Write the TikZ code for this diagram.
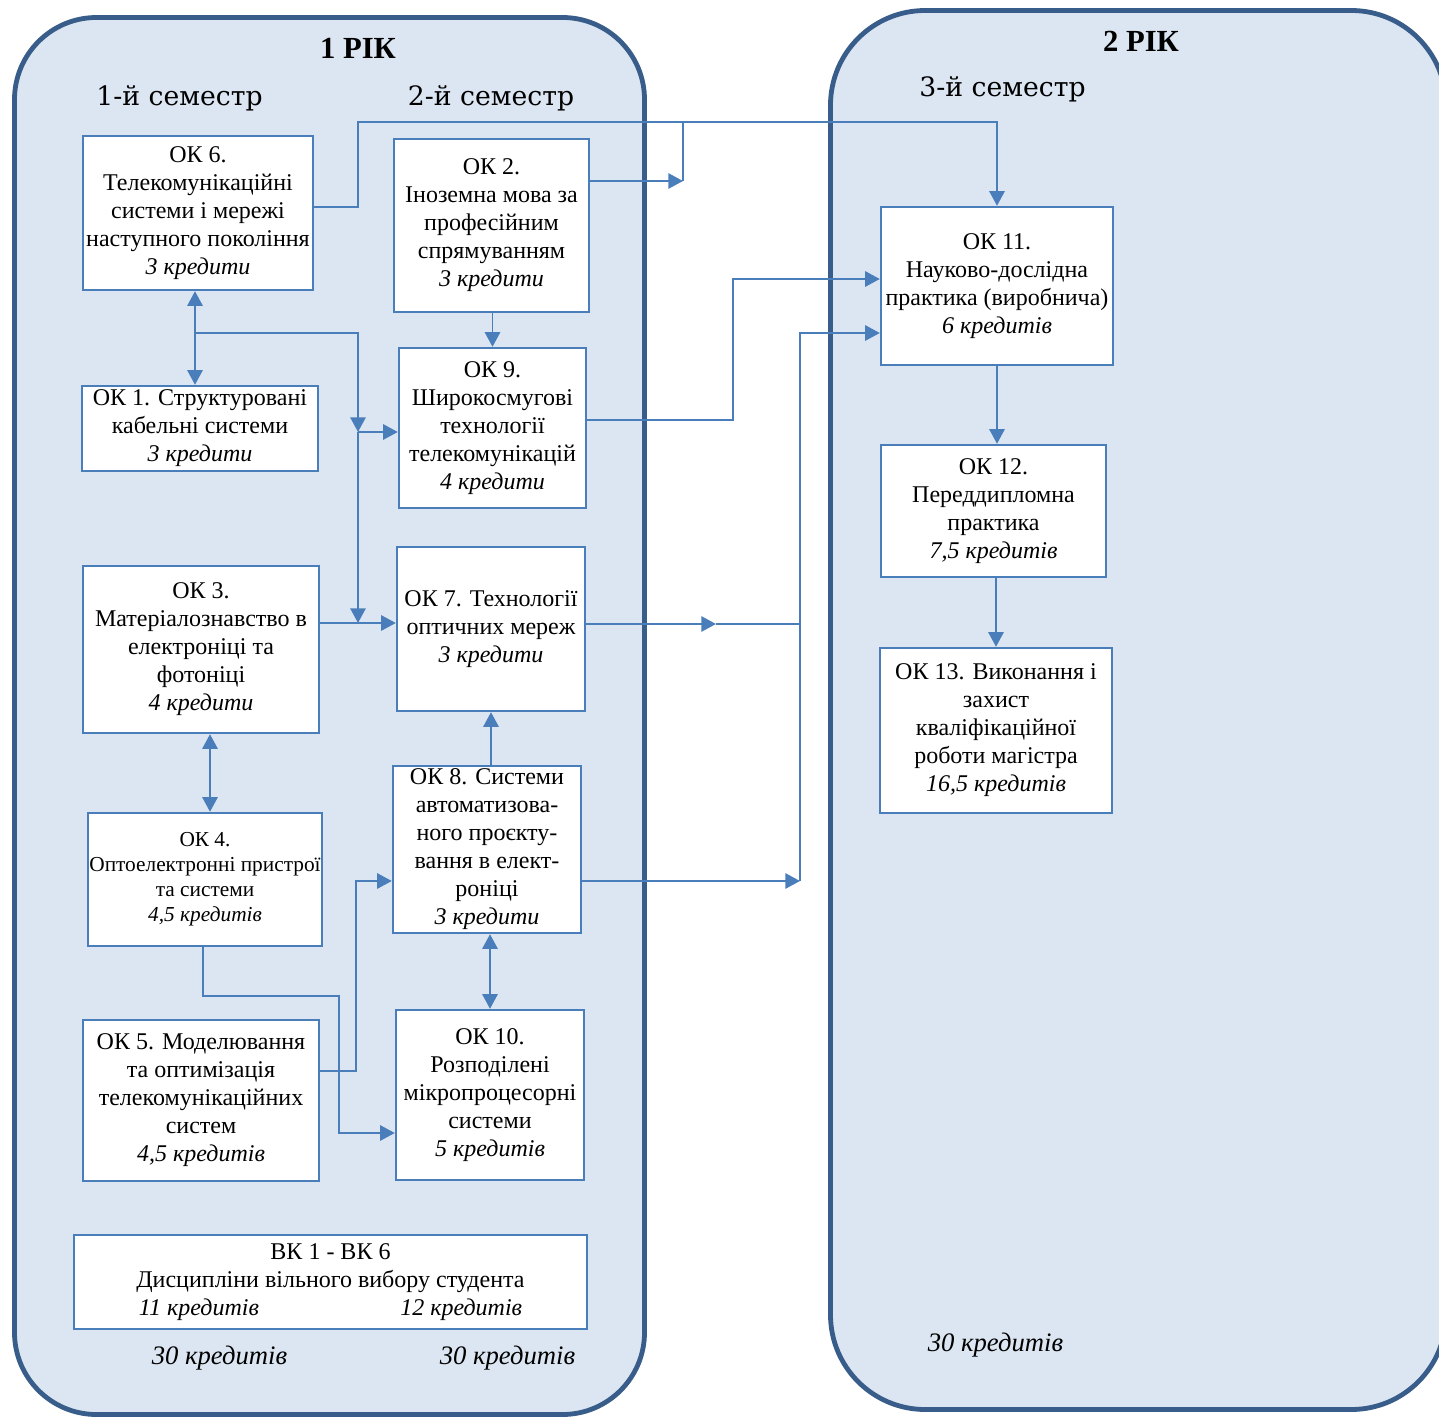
\documentclass[tikz,border=0pt]{standalone}
\usepackage{fontspec}
\setmainfont{Liberation Serif}
\newfontfamily\semfont{DejaVu Serif}
\usetikzlibrary{arrows.meta}
\definecolor{yearfill}{RGB}{220,230,242}
\definecolor{yearline}{RGB}{56,93,138}
\definecolor{linkblue}{RGB}{74,126,187}

\begin{document}
\begin{tikzpicture}[x=0.75pt,y=0.75pt,yscale=-1,xscale=1,
  year/.style={draw=yearline, fill=yearfill, line width=3.6pt},
  okbox/.style={draw=linkblue, fill=white, line width=1.8pt, align=center, inner sep=1pt, font=\fontsize{18}{21}\selectfont},
  link/.style={draw=linkblue, line width=1.4pt},
  arr/.style={link, -{Triangle[length=11pt,width=11.5pt]}},
  darr/.style={link, {Triangle[length=11pt,width=11.5pt]}-{Triangle[length=11pt,width=11.5pt]}},
  semtext/.style={font=\semfont\fontsize{20}{24}\selectfont},
  yeartext/.style={font=\bfseries\fontsize{23}{27}\selectfont},
  totaltext/.style={font=\itshape\fontsize{20}{24}\selectfont}]
\useasboundingbox (0,0) rectangle (1439,1419);

%Shape: year frames
\draw[year, rounded corners=61.5pt] (14.5,17.5) rectangle (644.5,1414.5);
\draw[year, rounded corners=71pt] (830.5,10.5) rectangle (1446,1409.5);

% Text Node
\node[yeartext] (year1) at (358,48) {1 РІК};
\node[yeartext] (year2) at (1141,41) {2 РІК};
\node[semtext] (sem1) at (179.5,98) {1-й семестр};
\node[semtext] (sem2) at (491,98) {2-й семестр};
\node[semtext] (sem3) at (1002.5,89) {3-й семестр};

%Shape: course boxes, semester 1
\node[okbox, minimum width=172.5pt, minimum height=115.5pt] (ok6) at (198,213) {ОК 6.\\Телекомунікаційні\\системи і мережі\\наступного покоління\\\textit{3 кредити}};
\coordinate (ok6b) at (195,290);
\node[okbox, minimum width=177pt, minimum height=63.75pt] (ok1) at (200,428.5) {ОК 1. Структуровані\\кабельні системи\\\textit{3 кредити}};
\node[okbox, minimum width=177pt, minimum height=125.25pt] (ok3) at (201,649.5) {ОК 3.\\Матеріалознавство в\\електроніці та\\фотоніці\\\textit{4 кредити}};
\node[okbox, minimum width=175.5pt, minimum height=99.75pt, font=\fontsize{16}{18.75}\selectfont] (ok4) at (205,879.5) {ОК 4.\\Оптоелектронні пристрої\\та системи\\\textit{4,5 кредитів}};
\node[okbox, minimum width=177pt, minimum height=120.75pt] (ok5) at (201,1100.5) {ОК 5. Моделювання\\та оптимізація\\телекомунікаційних\\систем\\\textit{4,5 кредитів}};

%Shape: course boxes, semester 2
\node[okbox, minimum width=146.25pt, minimum height=129.75pt] (ok2) at (491.5,225.5) {ОК 2.\\Іноземна мова за\\професійним\\спрямуванням\\\textit{3 кредити}};
\node[okbox, minimum width=140.25pt, minimum height=120pt] (ok9) at (492.5,428) {ОК 9.\\Широкосмугові\\технології\\телекомунікацій\\\textit{4 кредити}};
\node[okbox, minimum width=141pt, minimum height=123pt] (ok7) at (491,629) {ОК 7. Технології\\оптичних мереж\\\textit{3 кредити}};
\node[okbox, minimum width=141pt, minimum height=125.25pt] (ok8) at (487,849.5) {ОК 8. Системи\\автоматизова-\\ного проєкту-\\вання в елект-\\роніці\\\textit{3 кредити}};
\node[okbox, minimum width=141pt, minimum height=127.5pt] (ok10) at (490,1095) {ОК 10.\\Розподілені\\мікропроцесорні\\системи\\\textit{5 кредитів}};
\node[okbox, minimum width=384.75pt, minimum height=70.5pt] (vk) at (330.5,1282) {ВК 1 - ВК 6\\Дисципліни вільного вибору студента\\\textit{11 кредитів}\hspace{106pt}\textit{12 кредитів}};

%Shape: course boxes, semester 3
\node[okbox, minimum width=174pt, minimum height=118.5pt] (ok11) at (997,286) {ОК 11.\\Науково-дослідна\\практика (виробнича)\\\textit{6 кредитів}};
\node[okbox, minimum width=168.75pt, minimum height=99pt] (ok12) at (993.5,511) {ОК 12.\\Переддипломна\\практика\\\textit{7,5 кредитів}};
\node[okbox, minimum width=174pt, minimum height=123.75pt] (ok13) at (996,730.5) {ОК 13. Виконання і\\захист\\кваліфікаційної\\роботи магістра\\\textit{16,5 кредитів}};

% Text Node
\node[totaltext] (tot1) at (219.5,1358) {30 кредитів};
\node[totaltext] (tot2) at (507.5,1358) {30 кредитів};
\node[totaltext] (tot3) at (995.5,1345) {30 кредитів};

%Straight Lines: OK6 over the top to OK11, OK2 joins
\coordinate (top6) at (358,122);
\coordinate (j2) at (683,181);
\draw[arr] (ok6.east |- 0,207) -| (top6) -| (ok11.north);
\draw[arr] (ok2.east |- j2) -- (j2);
\draw[link] (j2) -- (j2 |- top6);
\draw[arr] (ok9.north |- ok2.south) -- (ok9.north);

%Straight Lines: OK6 / OK1 branch
\coordinate (bus1) at (358,432);
\coordinate (bus2) at (358,623);
\draw[darr] (ok6.south -| ok6b) -- (ok6b |- ok1.north);
\draw[arr] (ok6b |- 0,333) -| (bus1);
\draw[arr] (bus1) -- (bus1 -| ok9.west);
\draw[arr] (bus1) -- (bus2);
\draw[arr] (ok3.east |- bus2) -- (ok7.west |- bus2);
\draw[darr] (ok3.south -| 210,0) -- (ok4.north -| 210,0);

%Straight Lines: into OK11
\coordinate (j9) at (733,420);
\coordinate (j7) at (716,624);
\coordinate (bus3) at (800,881);
\draw[arr] (ok9.east |- j9) -- (j9) |- (ok11.west |- 0,279);
\draw[arr] (ok7.east |- j7) -- (j7);
\draw[link] (j7) -- (j7 -| bus3);
\draw[arr] (ok8.east |- bus3) -- (bus3);
\draw[arr] (bus3) |- (ok11.west |- 0,333);

%Straight Lines: OK8, OK10, OK5, OK4
\coordinate (j5) at (356,1071);
\coordinate (j4) at (339,996);
\draw[arr] (ok7.south |- ok8.north) -- (ok7.south);
\draw[darr] (ok10.north |- ok8.south) -- (ok10.north);
\draw[arr] (ok5.east |- j5) -- (j5) |- (ok8.west |- bus3);
\draw[arr] (ok4.south -| 203,0) |- (j4) |- (ok10.west |- 0,1133);

%Straight Lines: semester 3 chain
\draw[arr] (ok11.south) -- (ok11.south |- ok12.north);
\draw[arr] (ok13.north |- ok12.south) -- (ok13.north);

\end{tikzpicture}
\end{document}
